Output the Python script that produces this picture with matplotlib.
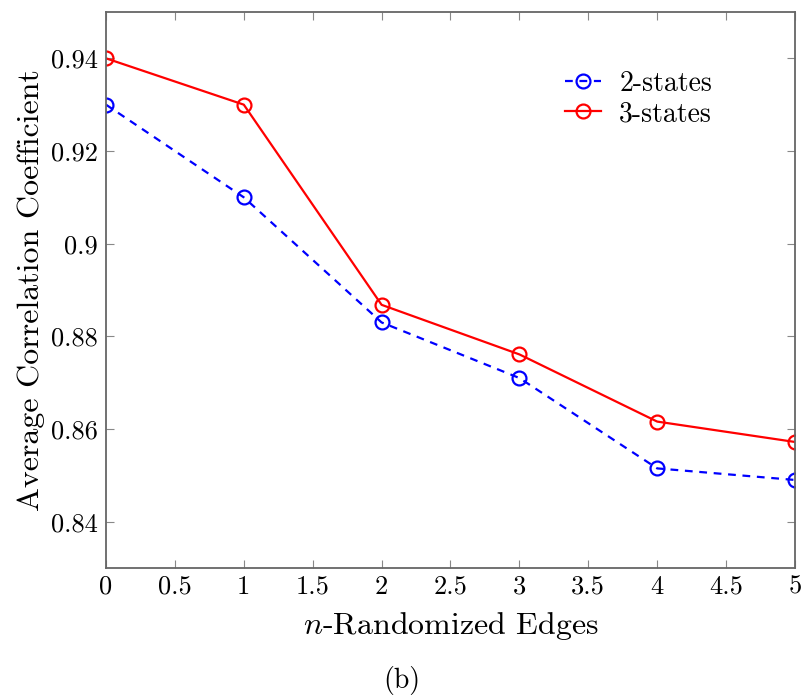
import matplotlib.pyplot as plt
from matplotlib.ticker import FuncFormatter

plt.rcParams['font.family'] = 'cmr10'
plt.rcParams['mathtext.fontset'] = 'cm'
plt.rcParams['axes.formatter.use_mathtext'] = True

# data
edges = [0, 1, 2, 3, 4, 5]
two_states = [0.930, 0.910, 0.883, 0.871, 0.8515, 0.8490]
three_states = [0.940, 0.930, 0.8868, 0.8761, 0.8616, 0.8572]
x_ticks = [0, 0.5, 1, 1.5, 2, 2.5, 3, 3.5, 4, 4.5, 5]
y_ticks = [0.84, 0.86, 0.88, 0.90, 0.92, 0.94]

fig = plt.figure(figsize=(8.03, 6.98), dpi=100)
ax = fig.add_axes([106 / 803, 130 / 698, 689 / 803, 556 / 698])

ax.plot(edges, two_states, color='blue', linestyle=(0, (3.5, 3)), linewidth=1.6,
        marker='o', markersize=10, markerfacecolor='none', markeredgewidth=1.6,
        label='2-states')
ax.plot(edges, three_states, color='red', linewidth=1.6,
        marker='o', markersize=10, markerfacecolor='none', markeredgewidth=1.6,
        label='3-states')

ax.set_xlim(0, 5)
ax.set_ylim(0.83, 0.95)
ax.set_xticks(x_ticks)
ax.set_yticks(y_ticks)
fmt = FuncFormatter(lambda v, p: '%g' % round(v, 4))
ax.xaxis.set_major_formatter(fmt)
ax.yaxis.set_major_formatter(fmt)

for s in ax.spines.values():
    s.set_color('#666666')
    s.set_linewidth(1.3)
ax.tick_params(direction='in', length=6, width=0.8, color='#888888',
               top=True, right=True, labelsize=19, pad=6)
ax.tick_params(axis='x', pad=5)

ax.set_xlabel('$n$-Randomized Edges', fontsize=23, labelpad=8)
ax.set_ylabel('Average Correlation Coefficient', fontsize=23, labelpad=4)

ax.legend(loc='upper left', bbox_to_anchor=(0.63, 0.94), frameon=False,
          fontsize=20, handlelength=1.3, handletextpad=0.65, labelspacing=0.15)

fig.text(0.5, 0.004, '(b)', ha='center', va='bottom', fontsize=20)

fig.savefig('out.png', dpi=100)
